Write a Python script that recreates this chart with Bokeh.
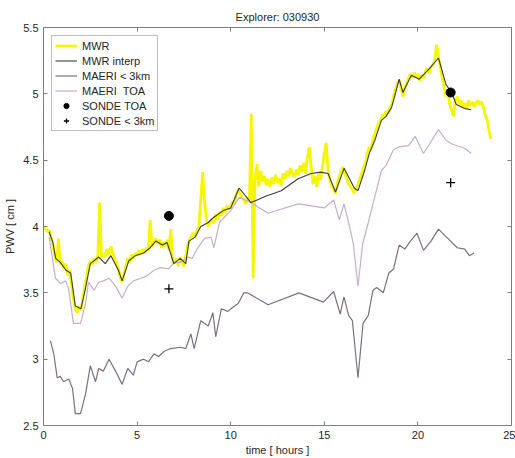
import numpy as np
from bokeh.plotting import figure
from bokeh.models import Legend, LegendItem, LinearAxis, FixedTicker
from bokeh.embed import file_html
from bokeh.resources import INLINE

title_text = "Explorer: 030930"
x_label = "time [ hours ]"
y_label = "PWV [ cm ]"
x_ticks = [0, 5, 10, 15, 20, 25]
y_ticks = [2.5, 3, 3.5, 4, 4.5, 5, 5.5]

# MWR raw (yellow), one value every 0.1 h from 0.0 to 23.9
mwr_t = [round(0.1 * i, 1) for i in range(240)]
mwr_v = [
    3.98, 4.00, 3.96, 3.97, 3.92, 3.86, 3.78, 3.73, 3.91, 3.71,
    3.74, 3.68, 3.72, 3.63, 3.67, 3.55, 3.45, 3.38, 3.35, 3.40,
    3.37, 3.45, 3.55, 3.62, 3.70, 3.74, 3.71, 3.76, 3.73, 3.78,
    4.18, 3.76, 3.80, 3.77, 3.83, 3.79, 3.85, 3.80, 3.76, 3.72,
    3.68, 3.62, 3.58, 3.64, 3.70, 3.76, 3.73, 3.79, 3.76, 3.80,
    3.78, 3.82, 3.79, 3.83, 3.80, 3.84, 3.82, 4.05, 3.85, 3.88,
    3.91, 3.87, 3.90, 3.84, 3.88, 3.85, 3.90, 3.82, 3.98, 3.74,
    3.72, 3.76, 3.70, 3.77, 3.73, 3.70, 3.78, 3.86, 3.90, 3.93,
    3.95, 3.92, 3.97, 4.00, 4.20, 4.41, 4.20, 4.05, 4.00, 4.03,
    4.06, 4.02, 4.09, 4.05, 4.11, 4.08, 4.14, 4.10, 4.16, 4.13,
    4.15, 4.19, 4.17, 4.24, 4.28, 4.25, 4.22, 4.20, 4.17, 4.22,
    4.20, 4.85, 3.61, 4.35, 4.47, 4.30, 4.42, 4.34, 4.38, 4.31,
    4.36, 4.30, 4.37, 4.32, 4.39, 4.33, 4.36, 4.31, 4.40, 4.36,
    4.42, 4.38, 4.44, 4.40, 4.37, 4.43, 4.39, 4.46, 4.41, 4.48,
    4.40, 4.52, 4.60, 4.45, 4.32, 4.38, 4.30, 4.40, 4.35, 4.45,
    4.55, 4.63, 4.42, 4.35, 4.30, 4.28, 4.25, 4.33, 4.38, 4.42,
    4.45, 4.40, 4.36, 4.32, 4.30, 4.28, 4.25, 4.29, 4.32, 4.36,
    4.40, 4.45, 4.48, 4.55, 4.60, 4.58, 4.66, 4.70, 4.74, 4.78,
    4.80, 4.84, 4.83, 4.87, 4.85, 4.90, 4.92, 4.98, 5.03, 5.08,
    5.10, 5.05, 4.98, 5.04, 5.08, 5.12, 5.15, 5.12, 5.16, 5.13,
    5.15, 5.10, 5.14, 5.12, 5.17, 5.19, 5.16, 5.20, 5.22, 5.25,
    5.37, 5.28, 5.20, 5.12, 5.05, 4.98, 5.03, 4.92, 4.88, 4.83,
    4.95, 4.98, 4.92, 4.95, 4.90, 4.93, 4.88, 4.95, 4.91, 4.94,
    4.90, 4.93, 4.95, 4.92, 4.94, 4.90, 4.84, 4.80, 4.72, 4.66,
]

# MWR interpolated to sonde/AERI times (dark line)
interp_t = [0.3, 0.5, 0.65, 0.9, 1.2, 1.45, 1.7, 2.0, 2.25, 2.5, 2.95, 3.3, 3.6,
            4.0, 4.2, 4.55, 4.9, 5.35, 5.7, 6.0, 6.35, 6.6, 6.96, 7.3, 7.6, 7.77,
            8.1, 8.4, 8.8, 9.1, 9.6, 10.0, 10.45, 11.08, 11.9, 12.7, 13.6, 14.3,
            14.8, 15.2, 15.6, 16.06, 16.6, 16.8, 17.15, 17.4, 17.7, 18.05, 18.3,
            18.6, 19.0, 19.2, 19.65, 20.07, 20.55, 21.1, 21.5, 21.8, 22.05, 22.5,
            22.85]
interp_v = [3.96, 3.88, 3.76, 3.73, 3.67, 3.65, 3.40, 3.38, 3.54, 3.72, 3.77, 3.72,
            3.78, 3.67, 3.59, 3.74, 3.78, 3.80, 3.84, 3.89, 3.86, 3.88, 3.72, 3.76,
            3.72, 3.89, 3.92, 4.00, 4.03, 4.07, 4.12, 4.14, 4.29, 4.18, 4.23, 4.27,
            4.36, 4.40, 4.41, 4.40, 4.26, 4.44, 4.29, 4.27, 4.42, 4.55, 4.65, 4.80,
            4.83, 4.90, 5.11, 5.01, 5.14, 5.11, 5.18, 5.27, 5.07, 5.01, 4.92, 4.89,
            4.88]

# MAERI TOA
toa_t = [0.3, 0.64, 0.91, 1.18, 1.34, 1.6, 1.98, 2.25, 2.4, 2.7, 2.95, 3.2, 3.5,
         3.85, 4.2, 4.5, 4.8, 5.2, 5.55, 5.9, 6.25, 6.7, 6.97, 7.3, 7.7, 7.95, 8.2,
         8.6, 8.95, 9.1, 9.4, 10.0, 10.45, 11.08, 12.0, 13.6, 15.0, 15.5, 15.8,
         16.05, 16.35, 16.55, 16.8, 17.05, 17.3, 17.6, 18.05, 18.3, 18.7, 19.0,
         19.5, 19.85, 20.3, 21.1, 21.5, 21.85, 22.5, 22.85]
toa_v = [3.92, 3.61, 3.57, 3.59, 3.53, 3.27, 3.27, 3.42, 3.58, 3.52, 3.58, 3.59,
         3.61, 3.55, 3.46, 3.55, 3.59, 3.61, 3.63, 3.67, 3.69, 3.68, 3.73, 3.73,
         3.77, 3.76, 3.83, 3.91, 3.92, 3.84, 4.03, 4.12, 4.22, 4.18, 4.10, 4.17,
         4.14, 4.20, 4.05, 4.17, 4.00, 3.87, 3.55, 3.87, 4.00, 4.17, 4.42, 4.46,
         4.58, 4.60, 4.61, 4.68, 4.55, 4.73, 4.65, 4.62, 4.59, 4.55]

# MAERI < 3 km
low_t = [0.37, 0.55, 0.73, 0.9, 1.07, 1.35, 1.55, 1.7, 1.98, 2.25, 2.5, 2.78, 2.95,
         3.2, 3.5, 3.85, 4.2, 4.5, 4.8, 5.0, 5.35, 5.6, 5.9, 6.15, 6.45, 6.8, 7.3,
         7.6, 7.87, 8.05, 8.4, 8.8, 9.05, 9.2, 9.5, 9.85, 10.1, 10.4, 10.7, 10.9,
         12.0, 13.65, 14.95, 15.5, 15.85, 16.05, 16.3, 16.5, 16.8, 17.07, 17.35,
         17.6, 17.8, 18.15, 18.45, 18.7, 19.0, 19.3, 19.55, 19.95, 20.3, 20.7,
         21.1, 21.6, 22.1, 22.5, 22.75, 23.0]
low_v = [3.14, 3.04, 2.86, 2.87, 2.83, 2.85, 2.78, 2.59, 2.59, 2.74, 2.95, 2.83,
         2.93, 2.91, 3.00, 2.91, 2.81, 2.93, 2.88, 2.98, 3.00, 2.98, 3.04, 3.02,
         3.06, 3.08, 3.09, 3.08, 3.19, 3.08, 3.29, 3.25, 3.35, 3.17, 3.38, 3.36,
         3.39, 3.42, 3.50, 3.50, 3.41, 3.50, 3.43, 3.51, 3.34, 3.47, 3.33, 3.29,
         2.86, 3.27, 3.33, 3.52, 3.54, 3.50, 3.65, 3.68, 3.86, 3.83, 3.88, 3.95,
         3.82, 3.89, 3.98, 3.91, 3.84, 3.83, 3.78, 3.80]

# Sondes
sonde_t = [6.7, 21.75]
sonde_toa = [4.08, 5.01]
sonde_low = [3.53, 4.33]

FONT = "Liberation Sans"
AX = "#7f7f7f"
TXT = "#262626"

p = figure(width=515, height=458, x_range=(0, 25), y_range=(2.5, 5.5),
           output_backend="svg", toolbar_location=None,
           min_border_left=43, min_border_right=4, min_border_top=27,
           min_border_bottom=33)
p.background_fill_color = "white"
p.border_fill_color = "white"
p.outline_line_color = AX
p.outline_line_width = 1
p.xgrid.visible = False
p.ygrid.visible = False

p.title.text = title_text
p.title.align = "center"
p.title.text_font = FONT
p.title.text_font_size = "11px"
p.title.text_font_style = "normal"
p.title.text_color = TXT
p.title.standoff = 10

def style_axis(ax, ticks, show_labels):
    ax.ticker = FixedTicker(ticks=ticks)
    ax.minor_tick_line_color = None
    ax.major_tick_in = 4
    ax.major_tick_out = 0
    ax.major_tick_line_color = AX
    ax.axis_line_color = AX
    ax.major_label_text_font = FONT
    if show_labels:
        ax.major_label_text_font_size = "11px"
        ax.major_label_text_color = TXT
        ax.major_label_standoff = 5
    else:
        ax.major_label_text_font_size = "1px"
        ax.major_label_text_color = None
        ax.major_label_standoff = 0
    ax.axis_label_text_font = FONT
    ax.axis_label_text_font_size = "11px"
    ax.axis_label_text_font_style = "normal"
    ax.axis_label_text_color = TXT

style_axis(p.xaxis[0], x_ticks, True)
style_axis(p.yaxis[0], y_ticks, True)
p.xaxis[0].axis_label = x_label
p.xaxis[0].axis_label_standoff = 2
p.yaxis[0].axis_label = y_label
p.yaxis[0].axis_label_standoff = 4

top_ax = LinearAxis()
style_axis(top_ax, x_ticks, False)
p.add_layout(top_ax, "above")
right_ax = LinearAxis()
style_axis(right_ax, y_ticks, False)
p.add_layout(right_ax, "right")

r_mwr = p.line(mwr_t, mwr_v, line_color="#f6f600", line_width=2.8)
r_low = p.line(low_t, low_v, line_color="#7d6f7d", line_width=1.2)
r_toa = p.line(toa_t, toa_v, line_color="#c9aec9", line_width=1.2)
r_int = p.line(interp_t, interp_v, line_color="#3c3c34", line_width=1.1)
r_st = p.scatter(sonde_t, sonde_toa, marker="circle", size=9,
                 fill_color="black", line_color="black")
r_sl = p.scatter(sonde_t, sonde_low, marker="cross", size=9,
                 line_color="black", line_width=1.3)

legend = Legend(items=[
    LegendItem(label="MWR", renderers=[r_mwr]),
    LegendItem(label="MWR interp", renderers=[r_int]),
    LegendItem(label="MAERI < 3km", renderers=[r_low]),
    LegendItem(label="MAERI  TOA", renderers=[r_toa]),
    LegendItem(label="SONDE TOA", renderers=[r_st]),
    LegendItem(label="SONDE < 3km", renderers=[r_sl]),
], location="top_left")
legend.margin = 8
legend.padding = 3
legend.spacing = 2
legend.glyph_width = 22
legend.glyph_height = 13
legend.label_height = 13
legend.label_standoff = 5
legend.label_text_font = FONT
legend.label_text_font_size = "11px"
legend.label_text_color = TXT
legend.border_line_color = AX
legend.border_line_width = 1
legend.background_fill_color = "white"
legend.background_fill_alpha = 1
p.add_layout(legend, "center")

open("out.html", "w").write(file_html(p, INLINE))
